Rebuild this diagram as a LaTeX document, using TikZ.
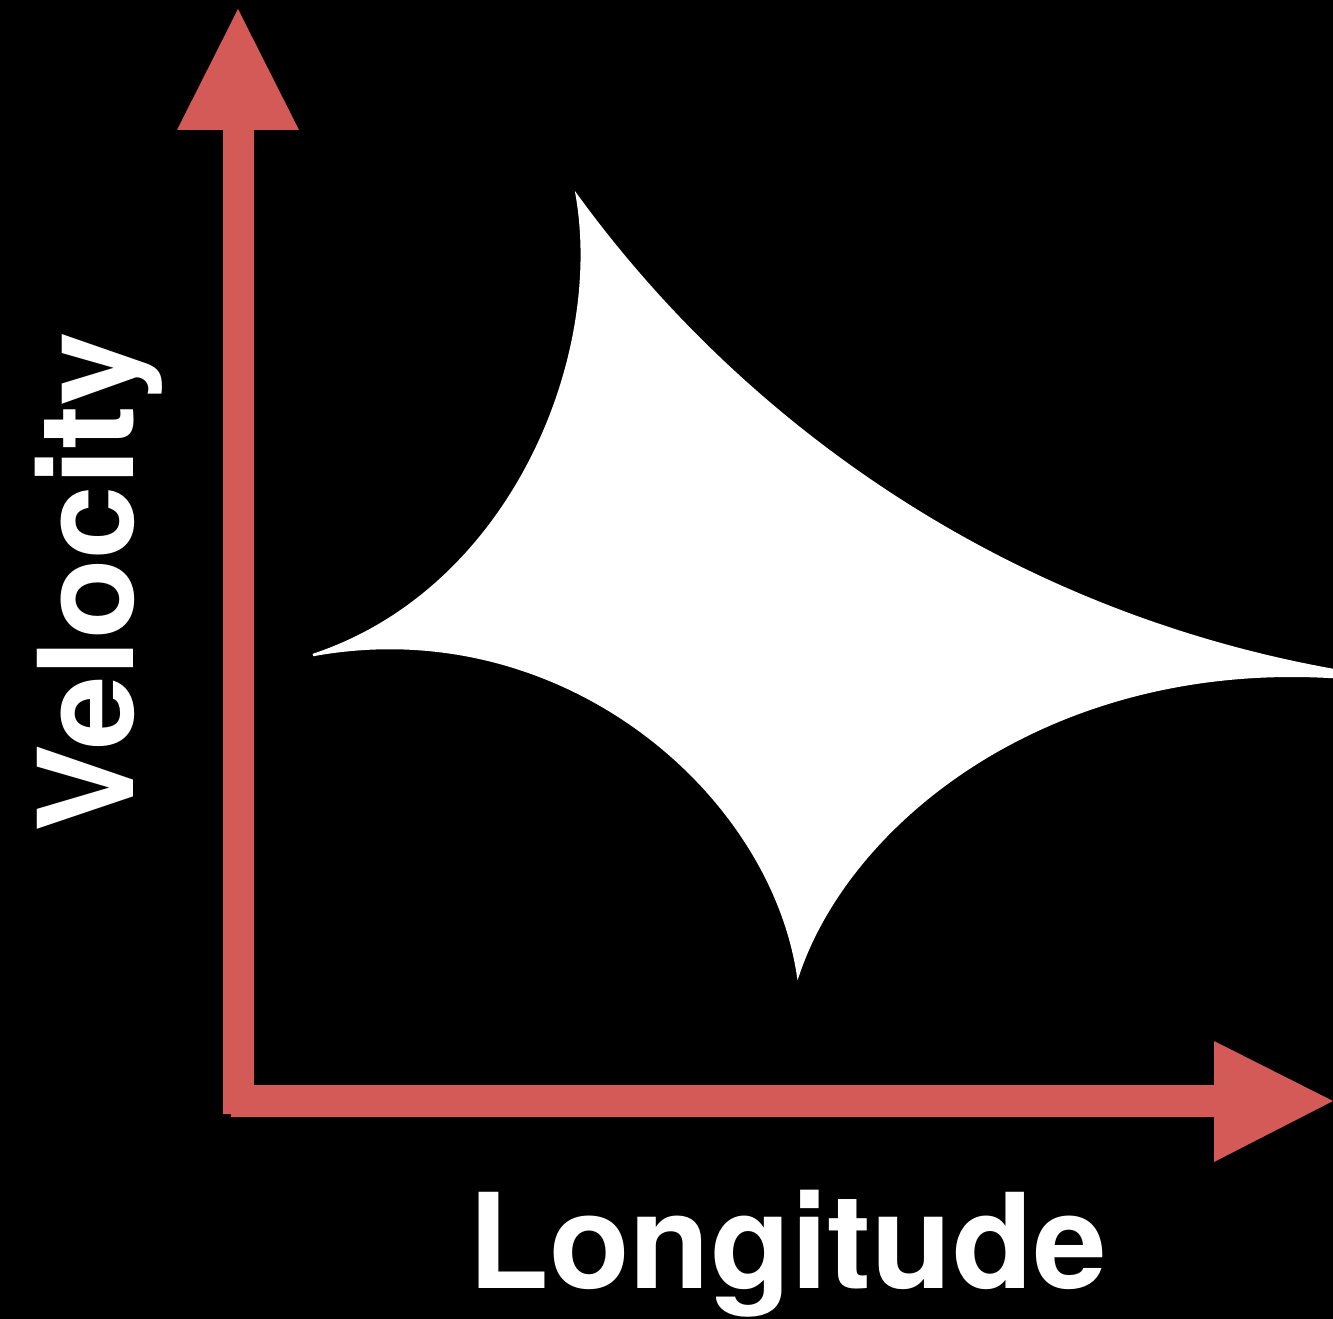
\documentclass[tikz,border=0pt]{standalone}
\usepackage{fontspec}
\setmainfont{TeX Gyre Heros}
\definecolor{axisred}{RGB}{212,90,87}
\begin{document}
\begin{tikzpicture}[x=1pt,y=-1pt,
  lbl/.style={text=white,font=\fontsize{132}{150}\selectfont\bfseries,inner sep=0pt},
  axisfill/.style={fill=axisred},
  regionfill/.style={fill=white,draw=white,line width=2.5pt}]
\fill[black] (0,0) rectangle (1333,1319);
\useasboundingbox (0,0) rectangle (1333,1319);
% named points
\coordinate (vtip) at (238,9);
\coordinate (htip) at (1333,1101);
\coordinate (top) at (577,196);
\coordinate (left) at (313,655);
\coordinate (bottom) at (798,975);
\coordinate (rightA) at (1333,670);
\coordinate (rightB) at (1333,677);
% vertical axis
\path[axisfill] (223,1114) -- (223,130) -- (177,130) -- (vtip) -- (299,130) -- (254,130) -- (254,1114) -- cycle;
% horizontal axis
\path[axisfill] (231,1085) -- (1214,1085) -- (1214,1041) -- (htip) -- (1214,1162) -- (1214,1117) -- (231,1117) -- cycle;
% white region
\path[regionfill] (top) .. controls (740,420) and (1000,610) .. (rightA) -- (rightB)
  .. controls (1050,660) and (850,820) .. (bottom)
  .. controls (770,790) and (560,610) .. (left)
  .. controls (510,590) and (605,360) .. (top) -- cycle;
% labels
\node[lbl,rotate=90,anchor=base] (vel) at (133,582) {Velocity};
\node[lbl,anchor=base] (lon) at (787.5,1288) {Longitude};
\end{tikzpicture}
\end{document}
